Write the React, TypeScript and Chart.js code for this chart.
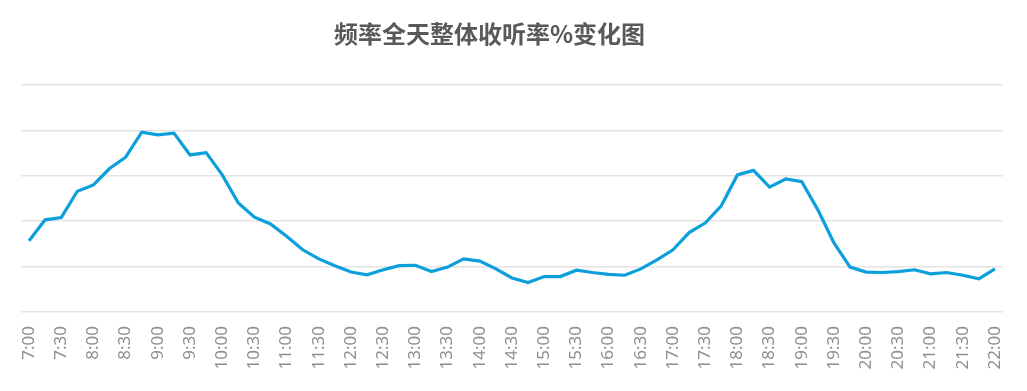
import React, { useEffect, useRef } from "react";
import { Chart, registerables } from "chart.js";

Chart.register(...registerables);

const chartTitle = "频率全天整体收听率%变化图";

const timeLabels = [
  "7:00", "7:15", "7:30", "7:45", "8:00", "8:15", "8:30", "8:45",
  "9:00", "9:15", "9:30", "9:45", "10:00", "10:15", "10:30", "10:45",
  "11:00", "11:15", "11:30", "11:45", "12:00", "12:15", "12:30", "12:45",
  "13:00", "13:15", "13:30", "13:45", "14:00", "14:15", "14:30", "14:45",
  "15:00", "15:15", "15:30", "15:45", "16:00", "16:15", "16:30", "16:45",
  "17:00", "17:15", "17:30", "17:45", "18:00", "18:15", "18:30", "18:45",
  "19:00", "19:15", "19:30", "19:45", "20:00", "20:15", "20:30", "20:45",
  "21:00", "21:15", "21:30", "21:45", "22:00",
];

const ratingValues = [
  1.57, 2.03, 2.08, 2.66, 2.8, 3.16, 3.41, 3.96, 3.9, 3.94,
  3.46, 3.51, 3.02, 2.4, 2.09, 1.94, 1.67, 1.37, 1.17, 1.02,
  0.88, 0.82, 0.93, 1.02, 1.03, 0.89, 0.99, 1.17, 1.12, 0.95,
  0.75, 0.65, 0.78, 0.78, 0.92, 0.87, 0.83, 0.81, 0.95, 1.15,
  1.37, 1.75, 1.96, 2.34, 3.02, 3.12, 2.75, 2.93, 2.87, 2.25,
  1.52, 0.99, 0.88, 0.87, 0.89, 0.93, 0.84, 0.87, 0.81, 0.73, 0.95,
];

const yMin = 0;
const yMax = 5;
const yStep = 1;

const titlePlugin = {
  id: "customTitle",
  afterDraw(chart: any) {
    const ctx = chart.ctx;
    ctx.save();
    ctx.font = "bold 24px 'Noto Sans CJK SC', sans-serif";
    ctx.fillStyle = "#595959";
    ctx.textAlign = "center";
    ctx.textBaseline = "middle";
    ctx.fillText(chartTitle, chart.width / 2 - 24, 26);
    ctx.restore();
  },
};

export default function App() {
  const canvasRef = useRef<HTMLCanvasElement | null>(null);

  useEffect(() => {
    if (!canvasRef.current) return;
    const chart = new Chart(canvasRef.current, {
      type: "line",
      data: {
        labels: timeLabels,
        datasets: [
          {
            label: "收听率%",
            data: ratingValues,
            borderColor: "#0B9FDB",
            backgroundColor: "#0B9FDB",
            borderWidth: 3.2,
            pointRadius: 0,
            tension: 0,
            fill: false,
          },
        ],
      },
      options: {
        animation: false,
        responsive: true,
        maintainAspectRatio: false,
        layout: { padding: { top: 77, right: 16, left: 0, bottom: 0 } },
        plugins: {
          legend: { display: false },
          title: { display: false },
          tooltip: { enabled: false },
        },
        scales: {
          x: {
            offset: true,
            grid: { display: false, drawTicks: false },
            border: { display: false },
            ticks: {
              autoSkip: false,
              maxRotation: 90,
              minRotation: 90,
              padding: 14,
              color: "#8f8f8f",
              font: { family: "'Noto Sans', sans-serif", size: 17 },
              callback: (_v: any, i: number) => (i % 2 === 0 ? timeLabels[i] : ""),
            },
            afterFit: (scale: any) => {
              scale.height = 71;
              scale.paddingLeft = 0;
              scale.paddingRight = 0;
            },
          },
          y: {
            min: yMin,
            max: yMax,
            ticks: { stepSize: yStep, display: false },
            grid: { color: "#e4e4e4", lineWidth: 1.5, drawTicks: false },
            border: { display: false },
            afterFit: (scale: any) => {
              scale.width = 13;
            },
          },
        },
      },
      plugins: [titlePlugin],
    });
    return () => chart.destroy();
  }, []);

  return (
    <div style={{ width: 1011, height: 375, position: "relative" }}>
      <canvas ref={canvasRef} />
    </div>
  );
}
